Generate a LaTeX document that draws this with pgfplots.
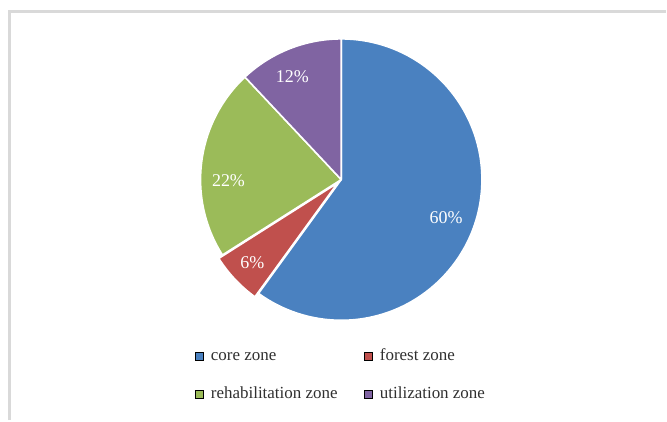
\documentclass[border=0pt]{standalone}
\usepackage{pgfplots}
\usepackage{pgfplotstable}
\pgfplotsset{compat=1.18}
\usepackage{fontspec}
\setmainfont{Liberation Serif}
\definecolor{slice0}{HTML}{4A81C0}
\definecolor{slice1}{HTML}{C0504D}
\definecolor{slice2}{HTML}{9BBB59}
\definecolor{slice3}{HTML}{8064A2}
\definecolor{bordergray}{HTML}{D9D9D9}
\definecolor{legendgray}{HTML}{303030}
\newcommand\labelfont{\fontsize{18bp}{21bp}\selectfont}
\newcommand\legfont{\fontsize{17bp}{20bp}\selectfont}

% value (percent), label position (axis units, px from left / from bottom), explode offset
\pgfplotstableread{
value lx ly explode
60 447 203 0
6 253 158 5
22 229 240 0
12 293 344 0
}\piedata

\begin{document}
\begin{tikzpicture}
\begin{axis}[
  scale only axis, width=667bp, height=421bp,
  xmin=0, xmax=667, ymin=0, ymax=421,
  hide axis, clip=false,
  legend columns=2,
  legend cell align=left,
  legend image code/.code={\fill[#1] (0bp,-4bp) rectangle (8bp,4bp);},
  legend style={at={(axis cs:195,72)}, anchor=north west, draw=none, fill=none,
    inner sep=0pt, outer sep=0pt, font=\legfont, text=legendgray,
    nodes={inner sep=0pt, text height=12bp, text depth=4bp},
    row sep=22bp,
    /tikz/every odd column/.style={column sep=8bp},
    /tikz/every even column/.style={column sep=26bp}},
]
% fixed extent of the picture
\path (axis cs:0,0) rectangle (axis cs:667,421);
% frame of the chart area
\draw[bordergray, line width=3bp, line join=miter] (axis cs:9.5,0) -- (axis cs:9.5,409.5) -- (axis cs:667,409.5);

\pgfplotstablegetrowsof{\piedata}
\pgfmathtruncatemacro\N{\pgfplotsretval-1}
\def\angstart{90}
\pgfplotsforeachungrouped \i in {0,...,\N}{%
  \pgfplotstablegetelem{\i}{value}\of\piedata \let\v\pgfplotsretval
  \pgfplotstablegetelem{\i}{explode}\of\piedata \let\ex\pgfplotsretval
  \pgfmathsetmacro\angend{\angstart-3.6*\v}%
  \pgfmathsetmacro\angmid{(\angstart+\angend)/2}%
  \pgfmathsetmacro\cx{342+\ex*cos(\angmid)}%
  \pgfmathsetmacro\cy{241+\ex*sin(\angmid)}%
  \edef\temp{\noexpand\fill[slice\i, draw=white, line width=1.6bp, line join=round]
    (axis cs:\cx,\cy) -- ++(\angstart:141bp) arc[start angle=\angstart, end angle=\angend, radius=141bp] -- cycle;}%
  \temp
  \global\let\angstart\angend
}
\pgfplotsforeachungrouped \i in {0,...,\N}{%
  \pgfplotstablegetelem{\i}{value}\of\piedata \let\v\pgfplotsretval
  \pgfplotstablegetelem{\i}{lx}\of\piedata \let\lx\pgfplotsretval
  \pgfplotstablegetelem{\i}{ly}\of\piedata \let\ly\pgfplotsretval
  \edef\temp{\noexpand\node[text=white, font=\noexpand\labelfont, inner sep=0pt] at (axis cs:\lx,\ly) {\v\noexpand\%};}%
  \temp
}

\addlegendimage{fill=slice0}
\addlegendentry{core zone}
\addlegendimage{fill=slice1}
\addlegendentry{forest zone}
\addlegendimage{fill=slice2}
\addlegendentry{rehabilitation zone}
\addlegendimage{fill=slice3}
\addlegendentry{utilization zone}
\end{axis}
\end{tikzpicture}
\end{document}
